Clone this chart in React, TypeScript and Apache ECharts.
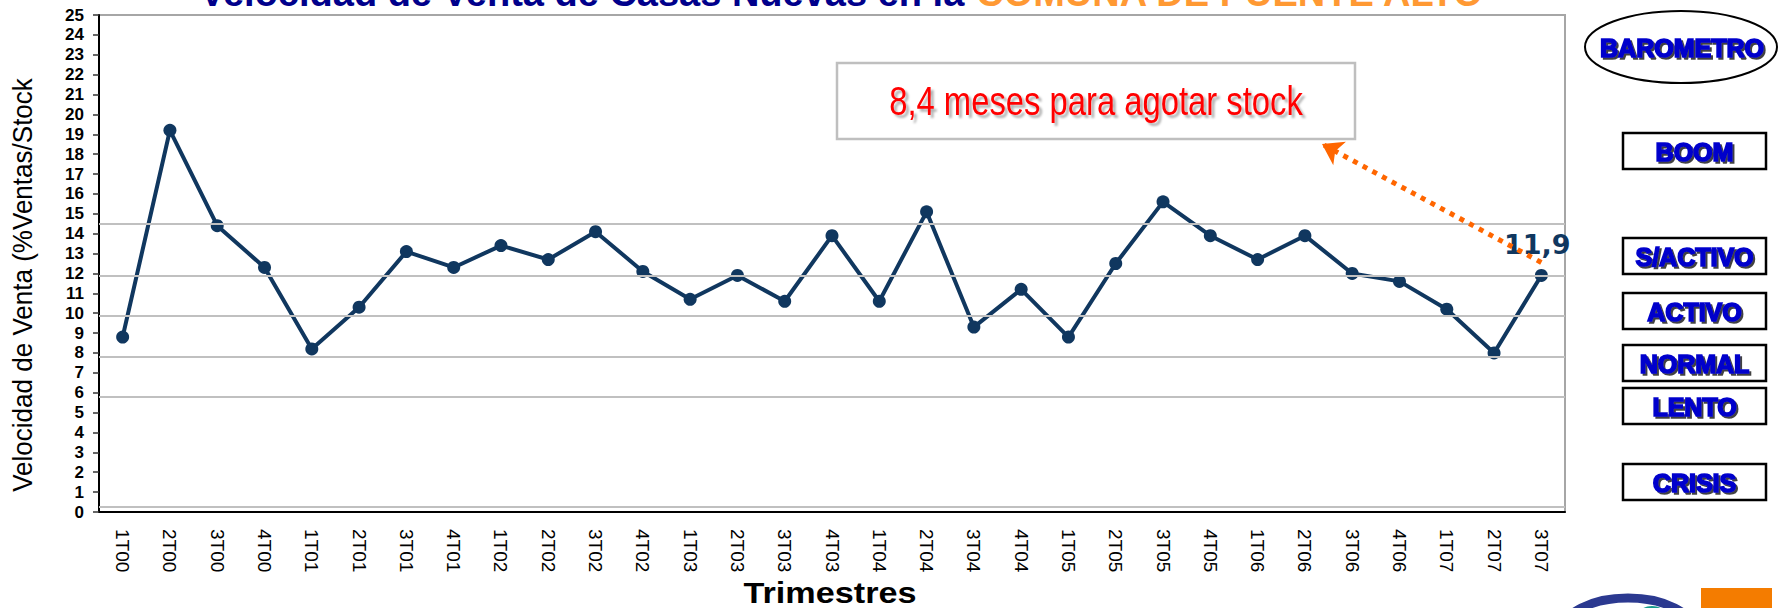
import React, { useEffect, useRef } from 'react';
import * as echarts from 'echarts';

const categories = ['1T00','2T00','3T00','4T00','1T01','2T01','3T01','4T01','1T02','2T02','3T02','4T02','1T03','2T03','3T03','4T03','1T04','2T04','3T04','4T04','1T05','2T05','3T05','4T05','1T06','2T06','3T06','4T06','1T07','2T07','3T07'];
const velocity = [8.8,19.2,14.4,12.3,8.2,10.3,13.1,12.3,13.4,12.7,14.1,12.1,10.7,11.9,10.6,13.9,10.6,15.1,9.3,11.2,8.8,12.5,15.6,13.9,12.7,13.9,12.0,11.6,10.2,8.0,11.9];
const barometerLevels = [14.5, 11.9, 9.85, 7.8, 5.8, 0.25];
const barometerLabels = ['BOOM', 'S/ACTIVO', 'ACTIVO', 'NORMAL', 'LENTO', 'CRISIS'];
const barometerBoxTop = [133, 238, 293, 345, 388, 464];
const yMin = 0;
const yMax = 25;
const yStep = 1;
const titleMain = 'Velocidad de Venta de Casas Nuevas en la ';
const titleAccent = 'COMUNA DE PUENTE ALTO';
const yName = 'Velocidad de Venta (%Ventas/Stock';
const xName = 'Trimestres';
const noteText = '8,4 meses para agotar stock';
const arrowFromValue = 12.55;

const LINE = '#10375f';
const BLUE = '#0000cc';

export default function App() {
  const ref = useRef<HTMLDivElement>(null);
  useEffect(() => {
    if (!ref.current) return;
    const chart = echarts.init(ref.current, null, { renderer: 'svg' });
    const last = velocity.length - 1;
    const seriesData = velocity.map((v, i) =>
      i === last
        ? {
            value: v,
            label: {
              show: true,
              position: 'top',
              distance: 11,
              offset: [-4, 0],
              formatter: (p: any) => String(p.value).replace('.', ','),
              fontFamily: 'DejaVu Sans',
              fontWeight: 'bold',
              fontSize: 27,
              color: LINE,
            },
          }
        : v
    );

    const shadow = (color: string, dx: number, blur: number) => ({
      shadowColor: color,
      shadowOffsetX: dx,
      shadowOffsetY: dx,
      shadowBlur: blur,
      textShadowColor: color,
      textShadowOffsetX: dx,
      textShadowOffsetY: dx,
      textShadowBlur: blur,
    });

    const boxText = (text: string, cx: number, cy: number) => ({
      type: 'text',
      x: cx,
      y: cy,
      z: 10,
      style: {
        text,
        align: 'center',
        verticalAlign: 'middle',
        fontFamily: 'Liberation Sans',
        fontWeight: 900,
        fontSize: 25,
        fill: BLUE,
        stroke: BLUE,
        lineWidth: 1.6,
        ...shadow('rgba(30,30,30,0.85)', 2, 1),
      },
    });

    const graphics: any[] = [
      {
        type: 'text',
        x: 842,
        y: -7,
        style: {
          text: `{a|${titleMain}}{b|${titleAccent}}`,
          align: 'center',
          verticalAlign: 'middle',
          rich: {
            a: { fill: '#00008b', color: '#00008b', fontSize: 38, fontWeight: 'bold', fontFamily: 'Liberation Sans' },
            b: { fill: '#ff9933', color: '#ff9933', fontSize: 38, fontWeight: 'bold', fontFamily: 'Liberation Sans' },
          },
        },
      },
      {
        type: 'text',
        x: 23,
        y: 285,
        rotation: Math.PI / 2,
        scaleX: 0.93,
        style: {
          text: yName,
          align: 'center',
          verticalAlign: 'middle',
          fontFamily: 'Liberation Sans',
          fontSize: 28,
          fill: '#000',
        },
      },
      {
        type: 'text',
        x: 830,
        y: 593,
        scaleX: 1.14,
        style: {
          text: xName,
          align: 'center',
          verticalAlign: 'middle',
          fontFamily: 'Liberation Sans',
          fontWeight: 'bold',
          fontSize: 30,
          fill: '#000',
        },
      },
      {
        type: 'rect',
        shape: { x: 837, y: 63, width: 518, height: 76 },
        style: { fill: '#fff', stroke: '#bfbfbf', lineWidth: 2.5 },
        z: 5,
      },
      {
        type: 'text',
        x: 1096,
        y: 101,
        scaleX: 0.82,
        z: 6,
        style: {
          text: noteText,
          align: 'center',
          verticalAlign: 'middle',
          fontFamily: 'Liberation Sans',
          fontSize: 40,
          fill: '#ff0000',
          ...shadow('rgba(0,0,0,0.3)', 3, 2),
        },
      },
      {
        type: 'ellipse',
        shape: { cx: 1681, cy: 47, rx: 96, ry: 36 },
        style: { fill: '#fff', stroke: '#000', lineWidth: 2 },
      },
      boxText('BAROMETRO', 1682, 48),
      {
        type: 'rect',
        shape: { x: 1701, y: 588, width: 71, height: 24 },
        style: { fill: '#f47c00' },
      },
      {
        type: 'ellipse',
        shape: { cx: 1628, cy: 632, rx: 66, ry: 34 },
        style: { fill: 'none', stroke: '#2b3990', lineWidth: 9 },
      },
      {
        type: 'ellipse',
        shape: { cx: 1652, cy: 614, rx: 13, ry: 8 },
        style: { fill: '#159a8c' },
      },
    ];
    barometerLabels.forEach((lab, i) => {
      const top = barometerBoxTop[i];
      graphics.push({
        type: 'rect',
        shape: { x: 1623, y: top, width: 143, height: 36 },
        style: { fill: '#fff', stroke: '#000', lineWidth: 2.5 },
      });
      graphics.push(boxText(lab, 1694.5, top + 18.5));
    });

    chart.setOption({
      animation: false,
      backgroundColor: '#fff',
      grid: {
        left: 99,
        top: 15,
        right: 215,
        bottom: 96,
        show: true,
        borderColor: '#a6a6a6',
        borderWidth: 2,
        backgroundColor: '#fff',
      },
      xAxis: {
        type: 'category',
        data: categories,
        boundaryGap: true,
        axisLine: { lineStyle: { color: '#000', width: 2 } },
        axisTick: { interval: 3, length: 6, lineStyle: { color: '#000', width: 2 } },
        axisLabel: {
          interval: 0,
          rotate: -90,
          margin: 17,
          fontFamily: 'Liberation Sans',
          fontSize: 19,
          color: '#000',
        },
        splitLine: { show: false },
      },
      yAxis: {
        type: 'value',
        min: yMin,
        max: yMax,
        interval: yStep,
        axisLine: { show: true, lineStyle: { color: '#000', width: 2 } },
        axisTick: { show: true, length: 6, lineStyle: { color: '#333', width: 1.5 } },
        axisLabel: {
          margin: 15,
          fontFamily: 'Liberation Sans',
          fontWeight: 'bold',
          fontSize: 17,
          color: '#000',
        },
        splitLine: { show: false },
      },
      series: [
        {
          type: 'line',
          data: velocity,
          symbol: 'none',
          lineStyle: { opacity: 0 },
          silent: true,
          z: 1,
          markLine: {
            silent: true,
            symbol: 'none',
            label: { show: false },
            lineStyle: { color: '#c0c0c0', width: 2, type: 'solid' },
            data: barometerLevels.map((v) => ({ yAxis: v })),
          },
        },
        {
          type: 'line',
          data: seriesData,
          symbol: 'circle',
          symbolSize: 13,
          itemStyle: { color: LINE },
          lineStyle: { color: LINE, width: 4 },
          z: 3,
          markLine: {
            silent: true,
            symbol: ['none', 'arrow'],
            symbolSize: 20,
            label: { show: false },
            lineStyle: { color: '#ff6600', width: 5, type: [5, 6] },
            data: [[{ coord: [categories[last], arrowFromValue] }, { x: 1322, y: 144 }]],
          },
        },
      ],
      graphic: graphics,
    });
    return () => chart.dispose();
  }, []);
  return <div ref={ref} style={{ position: 'absolute', left: 0, top: 0, width: 1780, height: 608 }} />;
}
